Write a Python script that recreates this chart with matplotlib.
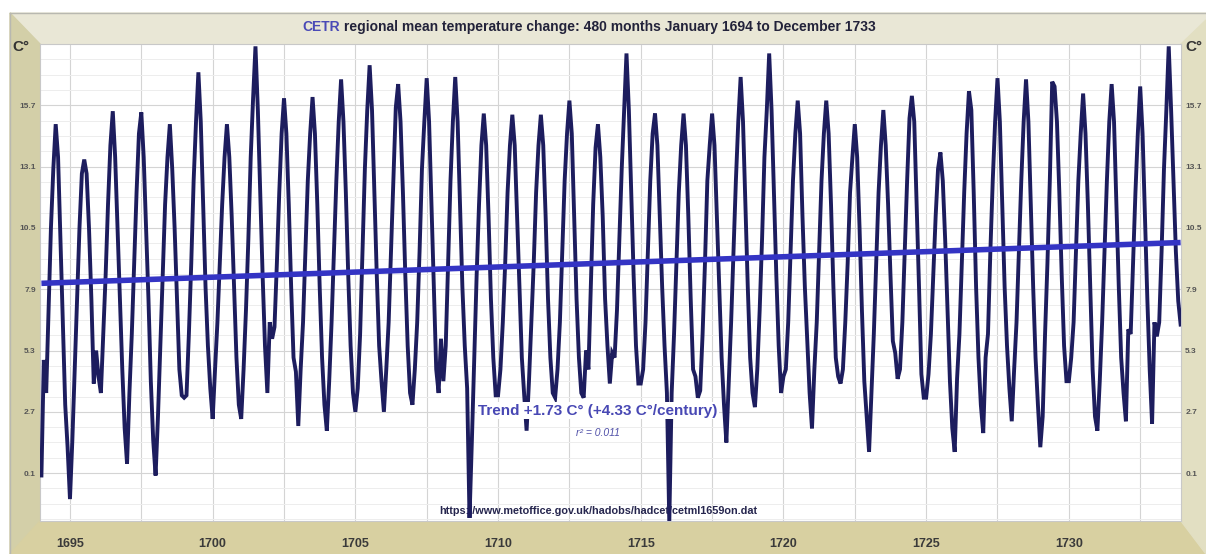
import numpy as np
import matplotlib
matplotlib.use("Agg")
from matplotlib import pyplot as plt
from matplotlib.patches import Polygon

plt.rcParams['font.family'] = ['Liberation Sans', 'DejaVu Sans']

# monthly mean temperatures (C), Jan..Dec, one row per year from 1694
first_year = 1694
temps = [
    [0.0, 4.9, 3.5, 7.0, 10.5, 13.0, 14.9, 13.5, 10.0, 6.5, 3.0, 1.2],     # 1694
    [-1.0, 1.5, 4.5, 7.5, 10.5, 12.8, 13.4, 12.8, 10.5, 7.5, 3.9, 5.3],    # 1695
    [4.2, 3.5, 6.0, 8.5, 11.5, 14.0, 15.45, 13.5, 10.5, 7.5, 4.5, 2.0],   # 1696
    [0.5, 3.5, 6.0, 9.0, 12.0, 14.5, 15.4, 13.5, 10.5, 7.5, 4.0, 1.5],    # 1697
    [0.0, 2.5, 5.5, 8.5, 11.5, 13.5, 14.9, 13.0, 10.5, 7.5, 4.5, 3.4],    # 1698
    [3.3, 3.4, 6.0, 9.0, 12.5, 15.0, 17.1, 15.0, 11.5, 8.0, 5.5, 3.7],    # 1699
    [2.4, 4.5, 6.5, 9.0, 11.5, 13.5, 14.9, 13.5, 11.0, 8.0, 5.0, 3.0],    # 1700
    [2.4, 4.5, 7.0, 10.0, 13.5, 16.0, 18.2, 15.5, 12.0, 8.5, 5.5, 3.5],   # 1701
    [6.5, 5.8, 6.3, 9.0, 12.0, 14.5, 16.0, 14.5, 11.5, 8.0, 5.0, 4.4],    # 1702
    [2.1, 4.5, 6.5, 9.5, 12.5, 14.5, 16.05, 14.5, 11.5, 8.0, 5.0, 3.0],   # 1703
    [1.9, 4.0, 6.5, 9.5, 12.5, 15.0, 16.8, 15.0, 12.0, 8.5, 5.5, 3.5],    # 1704
    [2.7, 3.7, 6.0, 9.5, 13.0, 15.5, 17.4, 15.5, 12.0, 8.5, 5.5, 4.0],    # 1705
    [2.7, 4.5, 6.5, 9.5, 12.5, 15.6, 16.6, 15.0, 12.0, 8.5, 5.5, 3.5],    # 1706
    [3.0, 4.5, 6.5, 9.5, 13.0, 15.0, 16.85, 15.0, 11.5, 8.0, 4.5, 3.5],   # 1707
    [5.8, 4.0, 5.5, 9.0, 12.5, 15.0, 16.9, 15.0, 11.5, 8.0, 5.5, 3.7],    # 1708
    [-1.8, 1.5, 5.0, 8.5, 11.5, 14.0, 15.35, 14.0, 11.0, 7.5, 5.0, 3.4],  # 1709
    [3.4, 4.5, 6.5, 9.0, 12.0, 14.0, 15.3, 14.0, 11.0, 8.0, 5.0, 3.4],    # 1710
    [1.9, 4.0, 6.5, 9.0, 12.0, 14.0, 15.3, 14.0, 11.0, 7.5, 5.0, 3.5],    # 1711
    [3.3, 4.5, 6.5, 9.5, 12.5, 14.5, 15.9, 14.5, 11.0, 7.5, 5.0, 3.5],    # 1712
    [3.3, 5.3, 4.5, 8.0, 11.5, 13.9, 14.9, 13.5, 11.0, 7.5, 5.5, 3.9],    # 1713
    [5.2, 5.0, 7.0, 10.0, 13.0, 15.5, 17.9, 15.5, 12.0, 8.5, 5.5, 3.9],   # 1714
    [3.9, 4.5, 6.5, 9.5, 12.5, 14.5, 15.35, 14.0, 11.0, 8.0, 5.5, 3.5],   # 1715
    [-2.0, 3.5, 6.0, 9.0, 12.0, 14.0, 15.35, 14.0, 11.0, 7.5, 4.5, 4.2],  # 1716
    [3.3, 3.6, 6.0, 9.0, 12.5, 14.0, 15.35, 14.0, 11.0, 8.0, 5.0, 3.0],   # 1717
    [1.4, 4.0, 6.5, 9.5, 12.5, 15.0, 16.9, 15.0, 11.5, 8.0, 5.0, 3.5],    # 1718
    [2.9, 4.5, 7.0, 10.0, 13.5, 15.5, 17.9, 15.5, 12.0, 8.5, 5.5, 3.5],   # 1719
    [4.2, 4.5, 6.5, 9.5, 12.5, 14.5, 15.9, 14.5, 11.0, 8.0, 5.8, 3.5],    # 1720
    [2.0, 4.5, 6.5, 9.5, 12.5, 14.5, 15.9, 14.5, 11.5, 8.0, 5.0, 4.2],    # 1721
    [3.9, 4.5, 6.5, 9.0, 12.0, 13.5, 14.9, 13.5, 10.5, 7.0, 4.0, 2.5],    # 1722
    [1.0, 3.5, 6.0, 9.0, 12.0, 14.0, 15.5, 14.0, 11.5, 8.5, 5.7, 5.2],    # 1723
    [4.1, 4.5, 6.5, 9.5, 12.5, 15.15, 16.1, 15.0, 11.5, 8.0, 4.3, 3.3],   # 1724
    [3.3, 4.3, 6.0, 8.5, 11.0, 13.0, 13.7, 12.5, 10.0, 7.0, 4.0, 2.0],    # 1725
    [1.0, 4.1, 6.0, 9.0, 12.0, 14.5, 16.3, 15.5, 12.0, 8.0, 5.0, 3.0],    # 1726
    [1.8, 5.0, 6.0, 9.5, 12.5, 15.0, 16.85, 15.0, 11.5, 8.0, 5.5, 3.7],   # 1727
    [2.3, 4.5, 6.5, 9.5, 12.5, 15.0, 16.8, 15.0, 11.5, 8.0, 5.0, 3.0],    # 1728
    [1.2, 2.5, 6.0, 9.0, 12.5, 16.7, 16.5, 15.0, 12.0, 8.5, 5.5, 4.0],    # 1729
    [4.0, 5.0, 6.5, 9.5, 12.5, 14.5, 16.2, 14.5, 11.5, 8.0, 4.5, 2.5],    # 1730
    [1.9, 4.0, 6.5, 9.5, 12.5, 15.0, 16.6, 15.0, 11.5, 8.0, 5.0, 3.5],    # 1731
    [2.3, 6.2, 6.0, 9.0, 12.0, 14.5, 16.5, 14.5, 11.0, 7.5, 4.5, 2.2],    # 1732
    [6.5, 5.9, 6.5, 9.5, 13.0, 15.5, 18.2, 15.5, 12.5, 9.5, 7.4, 6.4],    # 1733
]

trend_start = 8.15
trend_change = 1.73
year_ticks = [1695, 1700, 1705, 1710, 1715, 1720, 1725, 1730]
y_ticks = [0.1, 2.7, 5.3, 7.9, 10.5, 13.1, 15.7]

title_a = "CETR"
title_b = " regional mean temperature change: 480 months January 1694 to December 1733"
trend_text = "Trend +1.73 C\u00b0 (+4.33 C\u00b0/century)"
r2_text = "r\u00b2 = 0.011"
source_url = "https://www.metoffice.gov.uk/hadobs/hadcet/cetml1659on.dat"

vals = np.array(temps).ravel()
t = first_year + np.arange(len(vals)) / 12.0

W, H = 1206, 554
fig = plt.figure(figsize=(W / 100, H / 100), dpi=100)
fig.patch.set_facecolor('white')

# 3d-ish frame drawn in pixel coords
bg = fig.add_axes([0, 0, 1, 1], zorder=-1)
bg.set_xlim(0, W)
bg.set_ylim(H, 0)
bg.axis('off')
bg.add_patch(Polygon([(10, 13), (1206, 13), (1206, 20), (1181, 44), (40, 44)], color='#e9e7d6'))
bg.add_patch(Polygon([(10, 13), (40, 44), (40, 521), (10, 554)], color='#d3cfa8'))
bg.add_patch(Polygon([(40, 521), (1181, 521), (1206, 554), (10, 554)], color='#d8d0a1'))
bg.add_patch(Polygon([(1181, 44), (1206, 20), (1206, 554), (1181, 521)], color='#e2dfc2'))
bg.plot([10, 1206], [13, 13], color='#b8b8b0', lw=1)
bg.plot([10, 10], [13, 554], color='#b8b8b0', lw=1)

ax = fig.add_axes([40 / W, 1 - 521 / H, 1141 / W, 477 / H])
ax.set_facecolor('white')
ax.set_xlim(1693.95, 1733.93)
ax.set_ylim(-1.93, 18.24)

ax.plot(t, vals, color='#1d1d5e', lw=2.8, zorder=3, solid_joinstyle='miter')
ax.plot([t[0], t[-1]], [trend_start, trend_start + trend_change],
        color='#3434c4', lw=4, zorder=4, solid_capstyle='butt')

ax.set_xticks(year_ticks)
ax.set_xticks(np.arange(1697.5, 1734, 5), minor=True)
ax.set_yticks(y_ticks)
ax.set_yticks(np.arange(-1.85, 18.3, 0.65), minor=True)
ax.grid(which='major', color='#d4d4d4', lw=0.8, zorder=0)
ax.grid(which='minor', color='#ededed', lw=0.7, zorder=0)
ax.xaxis.grid(which='minor', color='#d4d4d4', lw=0.8)
ax.set_xticklabels([str(y) for y in year_ticks])
ax.set_yticklabels([str(v) for v in y_ticks])
ax.tick_params(axis='x', which='both', length=0, pad=12, labelsize=9, labelcolor='#3a3a3a')
ax.tick_params(axis='y', which='both', length=0, pad=3, labelsize=6, labelcolor='#555555',
               labelright=True)
for lab in ax.get_xticklabels() + ax.get_yticklabels():
    lab.set_fontweight('bold')
for s in ax.spines.values():
    s.set_color('#c8c8c8')
    s.set_linewidth(0.8)

fig.text(12 / W, 1 - 47 / H, "C\u00b0", fontsize=11, fontweight='bold', color='#333333', va='center')
fig.text(1185 / W, 1 - 47 / H, "C\u00b0", fontsize=11, fontweight='bold', color='#333333', va='center')

# title: "CETR" in blue, rest in dark navy right after it
t1 = fig.text(302 / W, 1 - 27 / H, title_a, fontsize=10, fontweight='bold', color='#4a4ab6', va='center')
ax.annotate(title_b, xy=(1, 0.5), xycoords=t1, va='center', ha='left',
            fontsize=10, fontweight='bold', color='#22223a', annotation_clip=False)

ax.text(1713.5, 2.75, trend_text, ha='center', va='center', fontsize=11, fontweight='bold',
        color='#4848b4', zorder=6,
        bbox=dict(facecolor='white', edgecolor='none', pad=1.0))
ax.text(1713.5, 1.8, r2_text, ha='center', va='center', fontsize=7.5, style='italic',
        color='#5050a8', zorder=6)
ax.text(1713.5, -1.5, source_url, ha='center', va='center', fontsize=7.8, fontweight='bold',
        color='#26264e', zorder=2)

fig.savefig('out.png', dpi=100, facecolor='white')
